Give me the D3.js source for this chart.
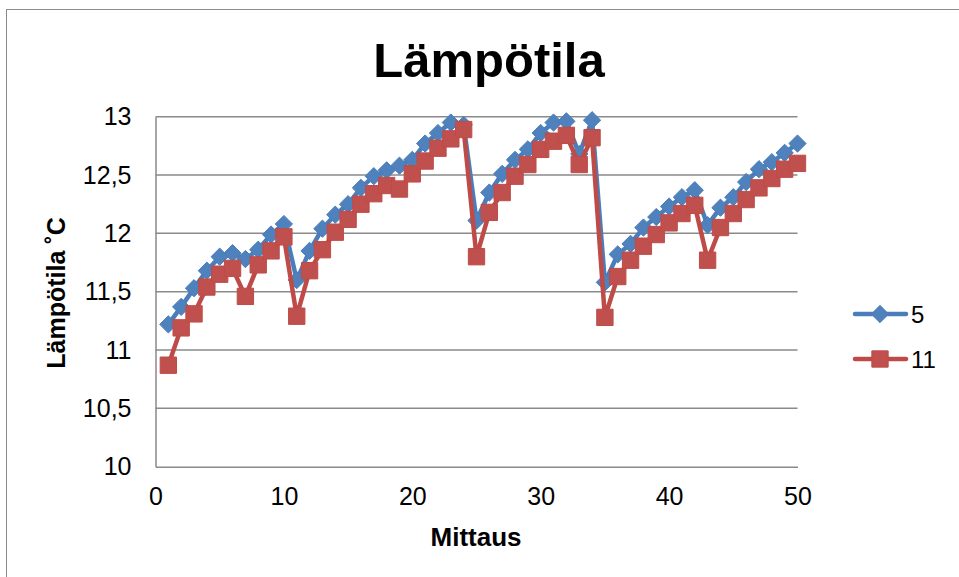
<!DOCTYPE html>
<html>
<head>
<meta charset="utf-8">
<script src="https://cdn.jsdelivr.net/npm/d3@7"></script>
<style>
  html, body { margin: 0; padding: 0; background: #fff; }
  svg { display: block; font-family: "Liberation Sans", Arial, sans-serif; }
</style>
</head>
<body>
<svg id="chart" width="959" height="577"></svg>
<script>
// Measurement index 1..50
const mittaus = d3.range(1, 51);

// Sensor "5" temperatures (°C)
const series5 = [
  11.22, 11.37, 11.53, 11.68, 11.80, 11.83, 11.78, 11.86, 11.99, 12.08,
  11.60, 11.85, 12.04, 12.16, 12.25, 12.39, 12.49, 12.54, 12.58, 12.63,
  12.77, 12.86, 12.95, 12.93, 12.11, 12.35, 12.51, 12.63, 12.72, 12.86,
  12.95, 12.96, 12.68, 12.97, 11.58, 11.82, 11.91, 12.05, 12.14, 12.23,
  12.31, 12.37, 12.07, 12.22, 12.31, 12.44, 12.55, 12.61, 12.69, 12.77
];

// Sensor "11" temperatures (°C)
const series11 = [
  10.87, 11.19, 11.31, 11.54, 11.65, 11.70, 11.46, 11.73, 11.85, 11.97,
  11.29, 11.68, 11.86, 12.01, 12.12, 12.25, 12.34, 12.41, 12.38, 12.51,
  12.62, 12.73, 12.81, 12.89, 11.80, 12.18, 12.35, 12.49, 12.59, 12.72,
  12.79, 12.84, 12.59, 12.82, 11.28, 11.63, 11.77, 11.89, 11.99, 12.09,
  12.17, 12.24, 11.77, 12.05, 12.17, 12.29, 12.39, 12.47, 12.55, 12.60
];

const seriesNames = ["5", "11"];
const xTicks = [0, 10, 20, 30, 40, 50];
const yTicks = [10, 10.5, 11, 11.5, 12, 12.5, 13];

const svg = d3.select("#chart");
const W = 959, H = 577;

// Chart frame
svg.append("rect")
  .attr("x", 6.5).attr("y", 9.5)
  .attr("width", W + 10).attr("height", H + 10)
  .attr("fill", "#fff").attr("stroke", "#8c8c8c").attr("stroke-width", 1);

const plot = { left: 155.5, right: 797.5, top: 116.7, bottom: 466.7 };

const x = d3.scaleLinear().domain([0, 50]).range([plot.left, plot.right]);
const y = d3.scaleLinear().domain([10, 13]).range([plot.bottom, plot.top]);

const fmt = v => String(v).replace(".", ",");

// Horizontal gridlines
svg.append("g")
  .selectAll("line")
  .data(yTicks.filter(v => v > 10))
  .join("line")
  .attr("x1", plot.left).attr("x2", plot.right)
  .attr("y1", d => y(d)).attr("y2", d => y(d))
  .attr("stroke", "#8a8a8a").attr("stroke-width", 1.5);

// Y axis
const yAxis = svg.append("g")
  .attr("transform", `translate(${plot.left},0)`)
  .call(d3.axisLeft(y).tickValues(yTicks).tickFormat(fmt).tickSize(0).tickPadding(24));
yAxis.select(".domain").attr("stroke", "#8a8a8a").attr("stroke-width", 1.5);
yAxis.selectAll("text")
  .attr("font-size", 25).attr("fill", "#000")
  .attr("font-family", "'Liberation Sans', Arial, sans-serif");

// X axis
const xAxis = svg.append("g")
  .attr("transform", `translate(0,${plot.bottom})`)
  .call(d3.axisBottom(x).tickValues(xTicks).tickFormat(d3.format("d")).tickSize(0).tickPadding(21));
xAxis.select(".domain").attr("stroke", "#8a8a8a").attr("stroke-width", 1.5);
xAxis.selectAll("text")
  .attr("font-size", 25).attr("fill", "#000")
  .attr("font-family", "'Liberation Sans', Arial, sans-serif");

// Series
const colors = [
  { line: "#4a7ebb", fill: "#4f81bd" },
  { line: "#be4b48", fill: "#c0504d" }
];
const allSeries = [series5, series11];

const lineGen = (vals) => d3.line()
  .x((d, i) => x(mittaus[i]))
  .y(d => y(d))(vals);

const markerFor = si => si === 0
  ? d3.symbol().type(d3.symbolDiamond2).size(190)
  : d3.symbol().type(d3.symbolSquare2).size(340);

allSeries.forEach((vals, si) => {
  const g = svg.append("g");
  g.append("path")
    .attr("d", lineGen(vals))
    .attr("fill", "none")
    .attr("stroke", colors[si].line)
    .attr("stroke-width", 4.5)
    .attr("stroke-linejoin", "round")
    .attr("stroke-linecap", "round");
  g.selectAll("path.m")
    .data(vals)
    .join("path")
    .attr("class", "m")
    .attr("transform", (d, i) => `translate(${x(mittaus[i])},${y(d)})`)
    .attr("d", markerFor(si))
    .attr("fill", colors[si].fill)
    .attr("stroke", colors[si].line)
    .attr("stroke-width", 1);
});

// Title
svg.append("text")
  .attr("x", 489).attr("y", 77)
  .attr("text-anchor", "middle")
  .attr("font-size", 49).attr("font-weight", "bold")
  .text("Lämpötila");

// Axis titles
svg.append("text")
  .attr("transform", "translate(65,293) rotate(-90)")
  .attr("text-anchor", "middle")
  .attr("font-size", 25).attr("font-weight", "bold")
  .text("Lämpötila ˚C");

svg.append("text")
  .attr("x", 476).attr("y", 546)
  .attr("text-anchor", "middle")
  .attr("font-size", 26).attr("font-weight", "bold")
  .text("Mittaus");

// Legend
const legend = svg.append("g");
const legendY = [314, 359];
seriesNames.forEach((name, si) => {
  const ly = legendY[si];
  legend.append("line")
    .attr("x1", 855).attr("x2", 906)
    .attr("y1", ly).attr("y2", ly)
    .attr("stroke", colors[si].line).attr("stroke-width", 4.5)
    .attr("stroke-linecap", "round");
  legend.append("path")
    .attr("transform", `translate(880,${ly})`)
    .attr("d", markerFor(si))
    .attr("fill", colors[si].fill)
    .attr("stroke", colors[si].line).attr("stroke-width", 1);
  legend.append("text")
    .attr("x", 911).attr("y", ly + 9)
    .attr("font-size", 24)
    .text(name);
});
</script>
</body>
</html>
